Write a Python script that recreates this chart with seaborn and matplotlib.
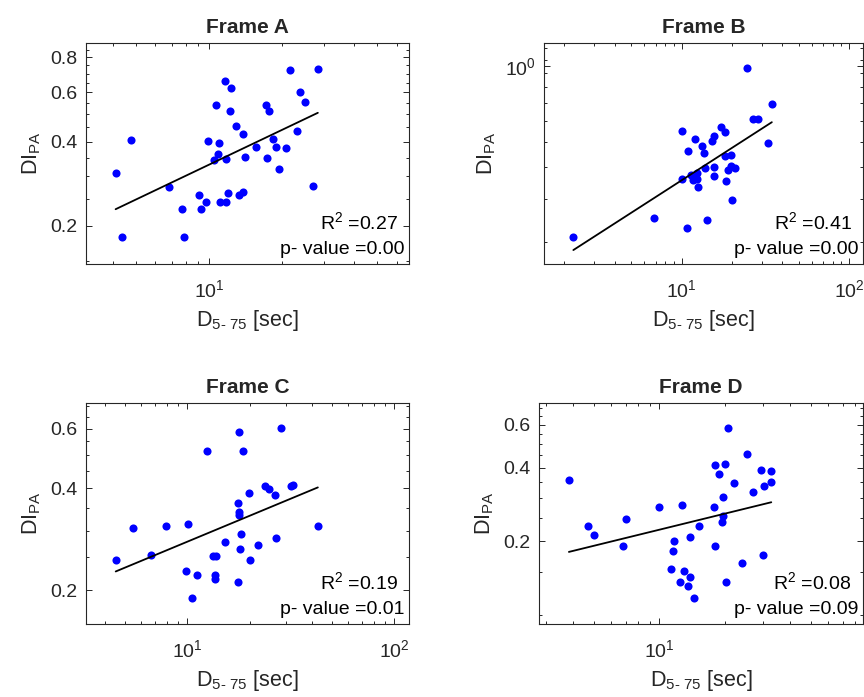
import numpy as np
import matplotlib
matplotlib.use("Agg")
import matplotlib.pyplot as plt
import seaborn as sns
from matplotlib.ticker import FixedLocator, FixedFormatter, NullFormatter

sns.set_style("white")
plt.rcParams['font.family'] = ['Liberation Sans', 'DejaVu Sans']
plt.rcParams['mathtext.fontset'] = 'custom'
plt.rcParams['mathtext.rm'] = 'Liberation Sans'
plt.rcParams['mathtext.it'] = 'Liberation Sans:italic'
plt.rcParams['mathtext.bf'] = 'Liberation Sans:bold'

# titles and stats text
frames = ["Frame A", "Frame B", "Frame C", "Frame D"]
r2_vals = ["0.27", "0.41", "0.19", "0.08"]
p_vals = ["0.00", "0.00", "0.01", "0.09"]

# D5-75 [sec] and DI_PA
dur_a = [4.1, 4.37, 4.74, 6.83, 7.75, 7.85, 9.12, 9.29, 9.72, 9.94,
         10.52, 10.86, 10.97, 11.1, 10.66, 11.61, 11.72, 11.8, 11.95, 12.22,
         12.34, 12.94, 13.31, 13.79, 13.88, 14.05, 15.66, 17.23, 17.34, 17.78,
         18.48, 18.89, 19.44, 20.85, 21.66, 23.23, 23.9, 25.07, 26.9, 28.3]
di_a = [0.308, 0.182, 0.406, 0.276, 0.230, 0.182, 0.257, 0.229, 0.243, 0.403,
        0.344, 0.361, 0.394, 0.243, 0.541, 0.656, 0.346, 0.243, 0.261, 0.515,
        0.622, 0.456, 0.257, 0.265, 0.424, 0.351, 0.382, 0.541, 0.350, 0.516,
        0.408, 0.382, 0.319, 0.378, 0.721, 0.435, 0.600, 0.555, 0.278, 0.729]

dur_b = [2.26, 6.82, 10.0, 10.09, 10.71, 10.95, 11.31, 11.73, 11.95, 12.28,
         12.39, 12.5, 13.27, 13.58, 13.89, 14.27, 15.28, 15.56, 15.6, 15.56,
         17.29, 18.17, 18.09, 18.34, 18.93, 19.64, 19.72, 20.09, 20.74, 24.66,
         26.78, 28.54, 32.58, 34.57]
di_b = [0.259, 0.303, 0.599, 0.409, 0.279, 0.510, 0.425, 0.406, 0.563, 0.409,
        0.430, 0.385, 0.532, 0.502, 0.448, 0.297, 0.553, 0.575, 0.450, 0.420,
        0.621, 0.597, 0.491, 0.403, 0.440, 0.495, 0.454, 0.347, 0.447, 0.984,
        0.657, 0.657, 0.547, 0.743]

dur_c = [4.51, 5.44, 6.65, 7.92, 9.89, 10.11, 10.49, 11.09, 12.49, 13.26,
         13.7, 13.66, 13.66, 15.26, 17.57, 17.7, 17.83, 17.57, 17.83, 18.23,
         18.03, 18.64, 19.79, 20.16, 21.87, 23.72, 24.8, 26.61, 26.92, 28.36,
         31.56, 32.39, 42.78]
di_c = [0.246, 0.305, 0.254, 0.309, 0.228, 0.313, 0.190, 0.222, 0.516, 0.252,
        0.253, 0.222, 0.216, 0.278, 0.361, 0.340, 0.334, 0.211, 0.587, 0.294,
        0.265, 0.517, 0.388, 0.245, 0.272, 0.407, 0.399, 0.383, 0.286, 0.602,
        0.407, 0.409, 0.309]

dur_d = [3.82, 4.69, 4.98, 6.8, 7.0, 9.96, 11.28, 11.6, 11.68, 12.45,
         12.76, 12.99, 13.51, 13.84, 13.84, 14.39, 15.23, 17.8, 17.99, 18.05,
         18.84, 19.45, 19.58, 19.58, 20.0, 20.29, 20.65, 22.09, 24.04, 25.35,
         27.12, 29.31, 30.05, 30.26, 32.6, 32.82]
di_d = [0.358, 0.232, 0.213, 0.191, 0.246, 0.277, 0.155, 0.182, 0.201, 0.136,
        0.283, 0.152, 0.132, 0.143, 0.208, 0.118, 0.232, 0.277, 0.412, 0.191,
        0.377, 0.241, 0.255, 0.304, 0.414, 0.137, 0.581, 0.347, 0.164, 0.454,
        0.319, 0.390, 0.176, 0.338, 0.388, 0.350]

durs = [dur_a, dur_b, dur_c, dur_d]
dis = [di_a, di_b, di_c, di_d]

# axis settings per frame
xlims = [(3.09, 67.6), (1.51, 121), (3.24, 118), (2.78, 87)]
ylims = [(0.146, 0.90), (0.21, 1.2), (0.159, 0.714), (0.092, 0.736)]
xmajor = [[10], [10, 100], [10, 100], [10]]
xmajor_lab = [["$10^1$"], ["$10^1$", "$10^2$"], ["$10^1$", "$10^2$"], ["$10^1$"]]
ymajor = [[0.2, 0.4, 0.6, 0.8], [1.0], [0.2, 0.4, 0.6], [0.2, 0.4, 0.6]]
ymajor_lab = [["0.2", "0.4", "0.6", "0.8"], ["$10^0$"], ["0.2", "0.4", "0.6"], ["0.2", "0.4", "0.6"]]
ystep = [0.05, 0.1, 0.05, 0.05]

positions = [[86, 43, 409, 264], [544, 43, 863, 264],
             [86, 403, 409, 624], [539, 403, 863, 624]]

W, H = 864, 697
fig = plt.figure(figsize=(W / 100, H / 100), dpi=100)
fig.patch.set_facecolor("white")
edge = "#262626"

for i in range(4):
    l, t, r, b = positions[i]
    ax = fig.add_axes([l / W, 1 - b / H, (r - l) / W, (b - t) / H])
    x = np.array(durs[i])
    y = np.array(dis[i])
    sns.scatterplot(x=x, y=y, ax=ax, color="#0000ff", s=34, linewidth=0, zorder=3)

    # least squares fit in log-log space
    k, c = np.polyfit(np.log10(x), np.log10(y), 1)
    xf = np.array([x.min(), x.max()])
    yf = 10 ** (c + k * np.log10(xf))
    ax.plot(xf, yf, color="black", lw=1.3, zorder=4)

    ax.set_xscale("log")
    ax.set_yscale("log")
    ax.set_xlim(xlims[i])
    ax.set_ylim(ylims[i])

    ax.xaxis.set_major_locator(FixedLocator(xmajor[i]))
    ax.xaxis.set_major_formatter(FixedFormatter(xmajor_lab[i]))
    xm = [m * 10 ** e for e in range(0, 3) for m in range(1, 10)]
    ax.xaxis.set_minor_locator(FixedLocator(xm))
    ax.xaxis.set_minor_formatter(NullFormatter())

    ax.yaxis.set_major_locator(FixedLocator(ymajor[i]))
    ax.yaxis.set_major_formatter(FixedFormatter(ymajor_lab[i]))
    ym = np.round(np.arange(0.05, 1.25, ystep[i]), 3)
    ax.yaxis.set_minor_locator(FixedLocator(ym))
    ax.yaxis.set_minor_formatter(NullFormatter())

    ax.tick_params(which="both", direction="in", top=True, right=True,
                   bottom=True, left=True, color=edge, width=0.7)
    ax.tick_params(which="major", length=4.5, labelsize=14, labelcolor=edge)
    ax.tick_params(which="minor", length=2.5)
    ax.tick_params(axis="x", which="major", pad=11)
    ax.tick_params(axis="y", which="major", pad=6)
    for s in ax.spines.values():
        s.set_color(edge)
        s.set_linewidth(0.8)

    ax.set_title(frames[i], fontsize=15, fontweight="bold", pad=7)
    ax.set_xlabel(r"D$_{\text{5- 75}}$ [sec]", fontsize=15.5, color=edge, labelpad=5)
    ax.set_ylabel(r"DI$_{\text{PA}}$", fontsize=15.5, color=edge, labelpad=5)

    ax.text(0.965, 0.16, "R$^2$ =" + r2_vals[i], transform=ax.transAxes,
            ha="right", va="baseline", fontsize=14, color="black")
    ax.text(0.987, 0.045, "p- value =" + p_vals[i], transform=ax.transAxes,
            ha="right", va="baseline", fontsize=14, color="black")

fig.savefig("out.png", dpi=100, facecolor="white")
